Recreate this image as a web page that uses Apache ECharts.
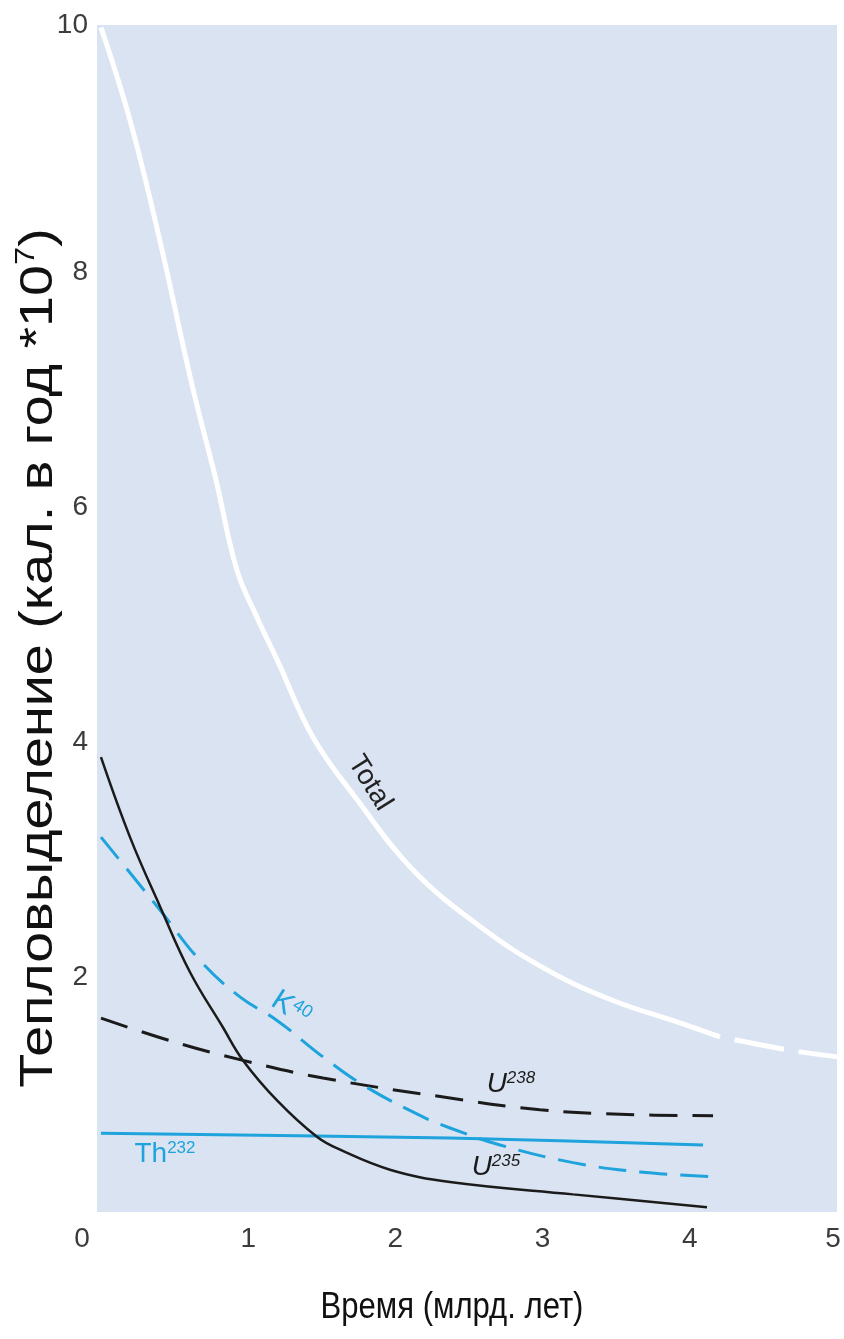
<!DOCTYPE html>
<html>
<head>
<meta charset="utf-8">
<script src="https://cdn.jsdelivr.net/npm/echarts@6/dist/echarts.min.js"></script>
<style>
  html, body { margin: 0; padding: 0; background: #ffffff; }
  #chart { width: 844px; height: 1339px; }
</style>
</head>
<body>
<div id="chart"></div>
<script>
// Heat production by radioactive isotopes over time, [billion years, value]
const totalSolid = [[0, 10.08], [0.197, 9.29], [0.401, 8.26], [0.618, 7.04], [0.781, 6.23],
  [0.924, 5.46], [1.067, 5.04], [1.196, 4.70], [1.440, 4.04], [1.739, 3.51], [2.120, 2.91],
  [2.575, 2.43], [3.030, 2.06], [3.478, 1.80], [3.933, 1.61], [4.205, 1.49]];
const totalTail = [[4.205, 1.49], [4.66, 1.38], [5.0, 1.32]];
const u235 = [[0, 3.87], [0.197, 3.19], [0.401, 2.60], [0.605, 2.04], [0.829, 1.57],
  [0.965, 1.29], [1.196, 0.95], [1.467, 0.64], [1.624, 0.53], [1.963, 0.36],
  [2.371, 0.255], [3.207, 0.15], [4.117, 0.04]];
const k40 = [[0, 3.19], [0.401, 2.57], [0.673, 2.14], [0.944, 1.83], [1.196, 1.63],
  [1.508, 1.32], [1.807, 1.06], [2.187, 0.81], [2.371, 0.715], [2.711, 0.57],
  [3.207, 0.42], [3.662, 0.34], [4.158, 0.30]];
const u238 = [[0, 1.65], [0.489, 1.45], [0.965, 1.29], [1.508, 1.14], [2.371, 0.97],
  [2.982, 0.87], [3.573, 0.83], [4.158, 0.82]];
const th232 = [[0, 0.67], [2.37, 0.63], [4.09, 0.57]];

const xTicks = [0, 1, 2, 3, 4, 5];
const yTicks = [2, 4, 6, 8, 10];

const xTitle = 'Время (млрд. лет)';
const yTitle = 'Тепловыделение (кал. в год *10';
const yTitleSup = '7';

// Curve captions anchored in data coordinates
const captions = [
  { name: 'Total', at: [1.827, 3.65] },
  { name: 'K', sup: '40', at: [1.29, 1.73] },
  { name: 'U', sup: '238', at: [2.785, 1.09] },
  { name: 'U', sup: '235', at: [2.683, 0.383] },
  { name: 'Th', sup: '232', at: [0.435, 0.494] }
];

const BLUE = '#1ea3dc';
const BLACK = '#1b1b1b';
const FONT = '"Liberation Sans", Arial, sans-serif';

function captionPoint(c, color, italic, rotate, baseSize) {
  const text = c.sup ? '{b|' + c.name + '}{s|' + c.sup + '}' : '{b|' + c.name + '}';
  return {
    coord: c.at,
    symbol: 'circle',
    symbolSize: 0,
    label: {
      show: true,
      position: 'inside',
      rotate: rotate,
      formatter: text,
      rich: {
        b: { fontFamily: FONT, fontSize: baseSize, color: color, fontStyle: italic ? 'italic' : 'normal', lineHeight: baseSize },
        s: { fontFamily: FONT, fontSize: Math.round(baseSize * 0.6), color: color, fontStyle: italic ? 'italic' : 'normal', verticalAlign: 'top', lineHeight: baseSize }
      }
    }
  };
}

function captionMark(p) {
  return { silent: true, symbol: 'circle', symbolSize: 0, data: [p] };
}

const chart = echarts.init(document.getElementById('chart'), null, { renderer: 'canvas', width: 844, height: 1339 });

chart.setOption({
  backgroundColor: '#ffffff',
  animation: false,
  grid: {
    left: 97, right: 7, top: 25, bottom: 127,
    show: true, backgroundColor: '#d9e3f1', borderWidth: 0
  },
  xAxis: {
    type: 'value',
    min: -0.027,
    max: 5,
    axisLine: { show: false },
    axisTick: { show: false },
    splitLine: { show: false },
    axisLabel: {
      customValues: xTicks,
      margin: 13,
      fontFamily: FONT,
      fontSize: 28,
      color: '#3c3c3c',
      formatter: v => (v === 0 ? '{z|0}' : (v === 5 ? '{f|5}' : String(v))),
      rich: {
        z: { fontFamily: FONT, fontSize: 28, color: '#3c3c3c', padding: [0, 38, 0, 0] },
        f: { fontFamily: FONT, fontSize: 28, color: '#3c3c3c', padding: [0, 8, 0, 0] }
      }
    }
  },
  yAxis: {
    type: 'value',
    min: 0,
    max: 10.1,
    axisLine: { show: false },
    axisTick: { show: false },
    splitLine: { show: false },
    axisLabel: {
      customValues: yTicks,
      margin: 9,
      fontFamily: FONT,
      fontSize: 28,
      color: '#3c3c3c',
      formatter: v => (v === 10 ? '{t|10}' : String(v)),
      rich: {
        t: { fontFamily: FONT, fontSize: 28, color: '#3c3c3c', padding: [0, 0, 22, 0] }
      }
    }
  },
  graphic: [
    {
      // horizontal axis title
      type: 'text',
      x: 452,
      y: 1308,
      scaleX: 0.84,
      style: {
        text: xTitle,
        font: '37px ' + FONT,
        fill: '#111111',
        align: 'center',
        verticalAlign: 'middle'
      }
    },
    {
      // vertical axis title, reading bottom to top
      type: 'text',
      x: 39,
      y: 658,
      rotation: Math.PI / 2,
      scaleX: 1.21,
      style: {
        text: '{a|' + yTitle + '}{s|' + yTitleSup + '}{a|)}',
        align: 'center',
        verticalAlign: 'middle',
        rich: {
          a: { fontFamily: FONT, fontSize: 46, fill: '#111111', lineHeight: 52 },
          s: { fontFamily: FONT, fontSize: 27, fill: '#111111', verticalAlign: 'top', lineHeight: 52 }
        }
      }
    }
  ],
  series: [
    {
      name: 'Th232', type: 'line', data: th232, showSymbol: false, smooth: 0.3,
      lineStyle: { color: BLUE, width: 3 },
      markPoint: captionMark(captionPoint(captions[4], BLUE, false, 0, 28))
    },
    {
      name: 'U238', type: 'line', data: u238, showSymbol: false, smooth: 0.4,
      lineStyle: { color: BLACK, width: 3, type: [28, 15] },
      markPoint: captionMark(captionPoint(captions[2], BLACK, true, 0, 28))
    },
    {
      name: 'K40', type: 'line', data: k40, showSymbol: false, smooth: 0.4,
      lineStyle: { color: BLUE, width: 3, type: [28, 13] },
      markPoint: captionMark(captionPoint(captions[1], BLUE, false, -33, 30))
    },
    {
      name: 'U235', type: 'line', data: u235, showSymbol: false, smooth: 0.4,
      lineStyle: { color: BLACK, width: 2.5 },
      markPoint: captionMark(captionPoint(captions[3], BLACK, true, 0, 28))
    },
    {
      name: 'Total', type: 'line', data: totalSolid, showSymbol: false, smooth: 0.4,
      lineStyle: { color: '#ffffff', width: 5 },
      markPoint: captionMark(captionPoint(captions[0], '#222222', false, -58, 28))
    },
    {
      name: 'Total (extrapolated)', type: 'line', data: totalTail, showSymbol: false, smooth: 0.3,
      lineStyle: { color: '#ffffff', width: 5, type: [50, 15], dashOffset: 50 }
    }
  ]
});
</script>
</body>
</html>
